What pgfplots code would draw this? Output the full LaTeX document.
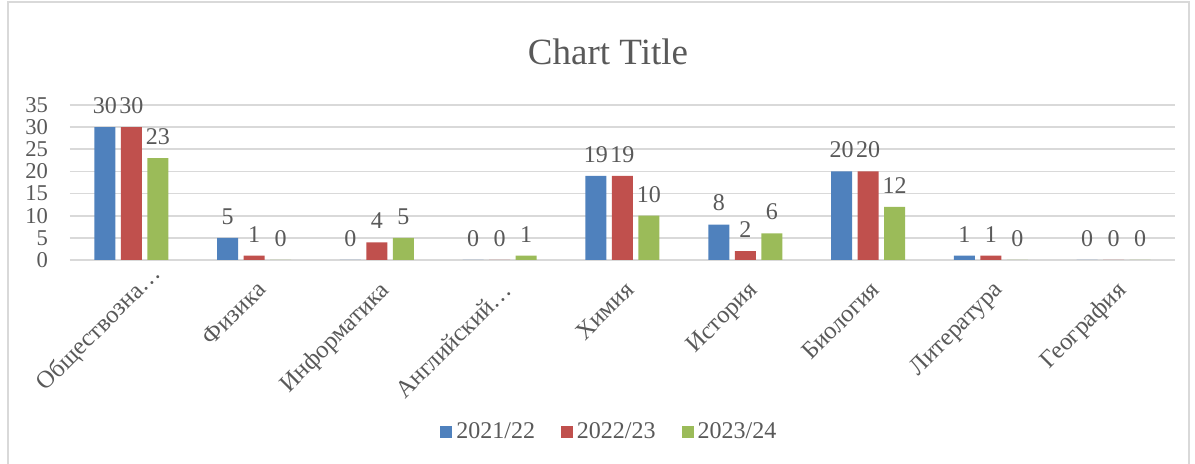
\documentclass[border=0pt]{standalone}
\usepackage{fontspec}
\setmainfont{Liberation Serif}
\usepackage{pgfplots}
\pgfplotsset{compat=1.18}

\definecolor{sblue}{HTML}{4F81BD}
\definecolor{sred}{HTML}{C0504D}
\definecolor{sgreen}{HTML}{9BBB59}
\definecolor{txt}{HTML}{595959}
\definecolor{gridc}{HTML}{D9D9D9}

\begin{document}
\begin{tikzpicture}
\useasboundingbox (0pt,0pt) rectangle (597.5pt,232pt);
\draw[gridc, line width=0.6pt] (4pt,-5pt) rectangle (594.5pt,231pt);
\node[txt, font=\fontsize{18.5}{22}\selectfont] at (304pt,206pt) {Chart Title};
\begin{axis}[
    at={(35pt,102pt)}, anchor=south west,
    scale only axis,
    width=552.5pt, height=77.5pt,
    ybar=2.75pt,
    bar width=10.5pt,
    xmin=-0.5, xmax=8.5,
    ymin=0, ymax=35,
    ytick={0,5,...,35},
    xtick={0,...,8},
    xticklabels={Обществозна…\hspace*{-12pt}, Физика, Информатика, Английский…, Химия, История, Биология, Литература, География},
    x tick label style={rotate=45, anchor=north east, font=\fontsize{12.3}{14}\selectfont, text=txt, yshift=-4pt, xshift=-3pt},
    y tick label style={font=\fontsize{11.3}{13}\selectfont, text=txt, xshift=-7.5pt},
    /pgf/number format/assume math mode=true,
    major tick length=0pt,
    ymajorgrids, grid style={gridc, line width=0.8pt},
    axis line style={draw=none},
    axis x line*=bottom,
    axis y line*=left,
    nodes near coords,
    nodes near coords style={font=\fontsize{12}{14}\selectfont, text=txt, inner sep=1pt, yshift=5.5pt},
    legend style={at={(0.489,-1.11)}, anchor=center, draw=none, legend columns=-1,
        font=\fontsize{12}{14}\selectfont, text=txt,
        /tikz/every even column/.append style={column sep=11pt}},
    legend image code/.code={\fill[#1] (0pt,-3pt) rectangle (6pt,3pt);},
]
\draw[gridc, line width=0.8pt] (axis cs:-0.5,0) -- (axis cs:8.5,0);
\addplot[fill=sblue, draw=none] coordinates {(0,30) (1,5) (2,0) (3,0) (4,19) (5,8) (6,20) (7,1) (8,0)};
\addplot[fill=sred, draw=none] coordinates {(0,30) (1,1) (2,4) (3,0) (4,19) (5,2) (6,20) (7,1) (8,0)};
\addplot[fill=sgreen, draw=none] coordinates {(0,23) (1,0) (2,5) (3,1) (4,10) (5,6) (6,12) (7,0) (8,0)};
\legend{2021/22, 2022/23, 2023/24}
\end{axis}
\end{tikzpicture}
\end{document}
